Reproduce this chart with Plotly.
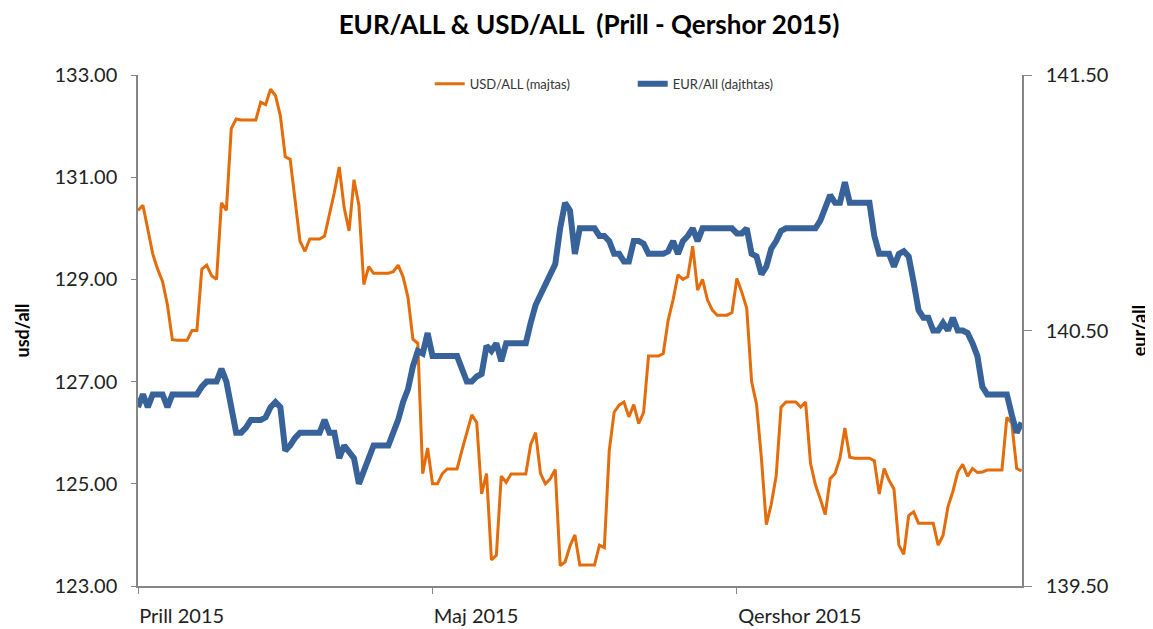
import pandas as pd
import plotly.graph_objects as go

# 12-hourly observations, 1 Apr 2015 00:00 -> 30 Jun 2015 00:00
dates = pd.date_range("2015-04-01", periods=181, freq="12h")

usd_all = [
    130.35, 130.45, 129.98, 129.50, 129.20, 128.96, 128.50, 127.82, 127.81, 127.81,
    127.81, 128.00, 128.00, 129.20, 129.28, 129.07, 129.00, 130.50, 130.35, 131.95,
    132.14, 132.12, 132.12, 132.12, 132.12, 132.47, 132.42, 132.72, 132.60, 132.20,
    131.40, 131.35, 130.60, 129.75, 129.55, 129.79, 129.79, 129.79, 129.85, 130.28,
    130.70, 131.20, 130.40, 129.95, 130.95, 130.45, 128.90, 129.25, 129.12, 129.12,
    129.12, 129.12, 129.15, 129.28, 129.05, 128.65, 127.83, 127.75, 125.20, 125.70,
    125.00, 125.00, 125.20, 125.29, 125.29, 125.29, 125.66, 126.00, 126.35, 126.20,
    124.80, 125.20, 123.51, 123.60, 125.15, 125.03, 125.19, 125.19, 125.19, 125.19,
    125.77, 126.00, 125.20, 125.00, 125.10, 125.28, 123.40, 123.47, 123.78, 124.00,
    123.41, 123.41, 123.41, 123.41, 123.80, 123.75, 125.65, 126.40, 126.54, 126.60,
    126.31, 126.55, 126.18, 126.40, 127.50, 127.50, 127.50, 127.55, 128.20, 128.60,
    129.09, 129.00, 129.05, 129.65, 128.79, 129.00, 128.60, 128.40, 128.30, 128.30,
    128.30, 128.35, 129.02, 128.75, 128.44, 127.00, 126.56, 125.50, 124.20, 124.60,
    125.15, 126.50, 126.60, 126.60, 126.60, 126.50, 126.60, 125.40, 124.98, 124.70,
    124.40, 125.10, 125.20, 125.50, 126.09, 125.52, 125.50, 125.50, 125.50, 125.50,
    125.45, 124.80, 125.30, 125.07, 124.90, 123.80, 123.62, 124.38, 124.45, 124.23,
    124.23, 124.23, 124.23, 123.80, 123.99, 124.55, 124.85, 125.23, 125.38, 125.15,
    125.30, 125.22, 125.23, 125.27, 125.27, 125.27, 125.27, 126.30, 126.19, 125.30,
    125.25,
]

eur_all = [
    140.20, 140.25, 140.20, 140.25, 140.25, 140.25, 140.20, 140.25, 140.25, 140.25,
    140.25, 140.25, 140.25, 140.28, 140.30, 140.30, 140.30, 140.35, 140.30, 140.20,
    140.10, 140.10, 140.12, 140.15, 140.15, 140.15, 140.16, 140.20, 140.22, 140.20,
    140.03, 140.05, 140.08, 140.10, 140.10, 140.10, 140.10, 140.10, 140.15, 140.10,
    140.10, 140.00, 140.05, 140.02, 140.00, 139.90, 139.95, 140.00, 140.05, 140.05,
    140.05, 140.05, 140.10, 140.15, 140.22, 140.27, 140.36, 140.42, 140.41, 140.49,
    140.40, 140.40, 140.40, 140.40, 140.40, 140.40, 140.35, 140.30, 140.30, 140.32,
    140.33, 140.44, 140.42, 140.45, 140.38, 140.45, 140.45, 140.45, 140.45, 140.45,
    140.53, 140.60, 140.64, 140.68, 140.71, 140.76, 140.90, 141.00, 140.97, 140.80,
    140.90, 140.90, 140.90, 140.90, 140.87, 140.87, 140.85, 140.80, 140.80, 140.77,
    140.77, 140.85, 140.85, 140.84, 140.80, 140.80, 140.80, 140.80, 140.81, 140.85,
    140.80, 140.85, 140.87, 140.90, 140.85, 140.90, 140.90, 140.90, 140.90, 140.90,
    140.90, 140.90, 140.88, 140.88, 140.90, 140.80, 140.79, 140.72, 140.75, 140.82,
    140.85, 140.89, 140.90, 140.90, 140.90, 140.90, 140.90, 140.90, 140.90, 140.93,
    140.98, 141.03, 141.00, 141.00, 141.08, 141.00, 141.00, 141.00, 141.00, 141.00,
    140.87, 140.80, 140.80, 140.80, 140.75, 140.80, 140.81, 140.79, 140.69, 140.58,
    140.55, 140.55, 140.50, 140.50, 140.53, 140.50, 140.55, 140.50, 140.50, 140.49,
    140.45, 140.40, 140.28, 140.25, 140.25, 140.25, 140.25, 140.25, 140.17, 140.10,
    140.14,
]

month_ticks = ["2015-04-01", "2015-05-01", "2015-06-01"]
month_labels = ["Prill 2015", "Maj 2015", "Qershor 2015"]
usd_ticks = [123, 125, 127, 129, 131, 133]
eur_ticks = [139.5, 140.5, 141.5]

ORANGE = "#E46C0A"
BLUE = "#37639A"
AXIS = "#868686"
FONT = "Lato"

fig = go.Figure()
fig.add_trace(go.Scatter(
    x=dates, y=usd_all, name="USD/ALL (majtas)", mode="lines",
    line=dict(color=ORANGE, width=3), yaxis="y",
))
fig.add_trace(go.Scatter(
    x=dates, y=eur_all, name="EUR/All (dajthtas)", mode="lines",
    line=dict(color=BLUE, width=6), yaxis="y2",
))

# the page body adds an 8px offset, so the figure is 8px smaller each way
fig.update_layout(
    width=1145, height=621,
    margin=dict(l=130, r=131, t=67, b=43, autoexpand=False),
    paper_bgcolor="white", plot_bgcolor="white",
    font=dict(family=FONT, color="#222222"),
    title=dict(
        text="<b>EUR/ALL &amp; USD/ALL  (Prill - Qershor 2015)</b>",
        x=0.5074, xanchor="center", y=0.972, yanchor="middle",
        font=dict(size=26, color="#000000", family=FONT),
    ),
    showlegend=True,
    legend=dict(
        orientation="h", x=0.33, xanchor="left", y=1.012, yanchor="top",
        font=dict(size=13, color="#333333"),
        bgcolor="rgba(0,0,0,0)", entrywidth=158, entrywidthmode="pixels",
    ),
    xaxis=dict(
        type="date", range=["2015-04-01", "2015-06-30 01:00"],
        tickvals=month_ticks, ticktext=month_labels,
        ticklabelposition="outside right",
        ticks="outside", ticklen=6, tickcolor=AXIS,
        showline=True, linecolor=AXIS, linewidth=1.5,
        showgrid=False, zeroline=False, automargin=False,
        tickfont=dict(size=20, color="#222222"),
        ticklabelstandoff=11,
    ),
    yaxis=dict(
        range=[123, 133], tickvals=usd_ticks, tickformat=".2f",
        ticks="outside", ticklen=5, tickcolor=AXIS,
        showline=True, linecolor=AXIS, linewidth=1.5,
        showgrid=False, zeroline=False, automargin=False,
        tickfont=dict(size=20, color="#222222"),
        ticklabelstandoff=10,
        title=dict(text="<b>usd/all</b>", font=dict(size=18, color="#000000"), standoff=20),
    ),
    yaxis2=dict(
        range=[139.5, 141.5], tickvals=eur_ticks, tickformat=".2f",
        overlaying="y", side="right", anchor="x",
        ticks="outside", ticklen=8, tickcolor=AXIS,
        showline=True, linecolor=AXIS, linewidth=1.5,
        showgrid=False, zeroline=False, automargin=False,
        tickfont=dict(size=20, color="#222222"),
        ticklabelstandoff=10,
        title=dict(text="<b>eur/all</b>", font=dict(size=18, color="#000000"), standoff=26),
    ),
)

fig.write_html("out.html")
